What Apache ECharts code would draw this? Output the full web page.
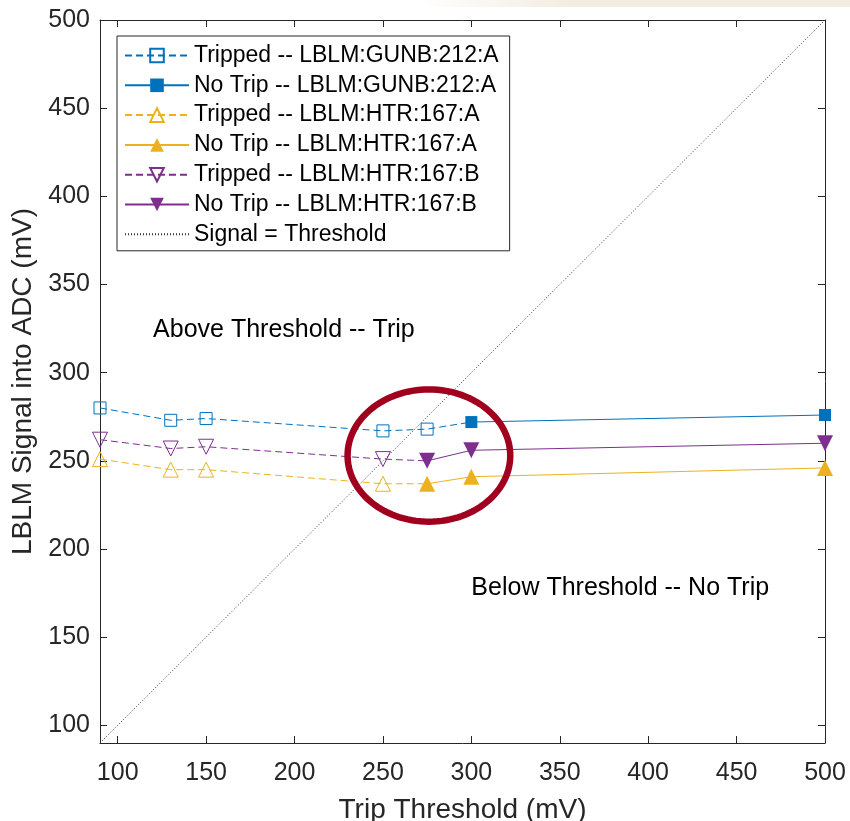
<!DOCTYPE html>
<html>
<head>
<meta charset="utf-8">
<script src="https://cdn.jsdelivr.net/npm/echarts@6/dist/echarts.min.js"></script>
<style>
  html, body { margin: 0; padding: 0; background: #fff; }
  #chart { width: 850px; height: 821px; }
</style>
</head>
<body>
<div id="chart"></div>
<script>
// Tick marks shared by both axes (mV)
const axisTicks = [100, 150, 200, 250, 300, 350, 400, 450, 500];

// LBLM:GUNB:212:A
const gunbTrippedX = [90, 130, 150, 250, 275];
const gunbTrippedY = [280, 273, 274, 267, 268];
const gunbNoTripX = [300, 500];
const gunbNoTripY = [272, 276];

// LBLM:HTR:167:A and LBLM:HTR:167:B share the same thresholds
const htrTrippedX = [90, 130, 150, 250];
const htrNoTripX = [275, 300, 500];
const htrATrippedY = [251, 245, 245, 237];
const htrANoTripY = [237, 241, 246];
const htrBTrippedY = [262, 257, 258, 251];
const htrBNoTripY = [250, 256, 260];

// Signal = Threshold reference line end points
const thresholdLine = [90, 500];

// Region notes: [threshold, signal] anchor of each text
const noteTexts = ['Above Threshold -- Trip', 'Below Threshold -- No Trip'];
const noteAnchors = [[120, 324], [300, 178]];

// Highlight around the trip boundary: [centre x, centre y, radius x, radius y]
const highlight = [276, 253, 46, 37.5];

const seriesNames = [
  'Tripped -- LBLM:GUNB:212:A',
  'No Trip -- LBLM:GUNB:212:A',
  'Tripped -- LBLM:HTR:167:A',
  'No Trip -- LBLM:HTR:167:A',
  'Tripped -- LBLM:HTR:167:B',
  'No Trip -- LBLM:HTR:167:B',
  'Signal = Threshold'
];

const FONT = '"Liberation Sans", Arial, Helvetica, sans-serif';
const BLUE = '#0072BD', YELLOW = '#EDB120', PURPLE = '#7E2F8E';
const AXIS = '#262626';

const zip = (xs, ys) => xs.map((x, i) => [x, ys[i]]);

// Dashed "tripped" trace continues to the first "no trip" point
function trippedData(xs, ys, nextX, nextY) {
  const pts = zip(xs, ys).map(p => ({ value: p }));
  pts.push({ value: [nextX[0], nextY[0]], symbol: 'none' });
  return pts;
}

function trippedSeries(name, color, symbol, rotate, xs, ys, nx, ny) {
  return {
    name, type: 'line',
    data: trippedData(xs, ys, nx, ny),
    symbol, symbolRotate: rotate,
    symbolSize: symbol === 'rect' ? 12 : 15,
    itemStyle: { color: 'rgba(255,255,255,0)', borderColor: color, borderWidth: 1 },
    lineStyle: { color, width: 1, type: [7, 4] },
    z: 3
  };
}

function noTripSeries(name, color, symbol, rotate, xs, ys) {
  return {
    name, type: 'line',
    data: zip(xs, ys),
    symbol, symbolRotate: rotate,
    symbolSize: symbol === 'rect' ? 12 : 16,
    itemStyle: { color, borderWidth: 0 },
    lineStyle: { color, width: 1, type: 'solid' },
    z: 4
  };
}

const chart = echarts.init(document.getElementById('chart'), null, { renderer: 'canvas' });

function valueAxis(position, extra) {
  return Object.assign({
    type: 'value', position, min: 90, max: 500,
    axisLine: { show: true, onZero: false, lineStyle: { color: AXIS, width: 1 } },
    axisTick: { show: true, inside: true, length: 7, customValues: axisTicks, lineStyle: { color: AXIS, width: 1 } },
    axisLabel: { show: false },
    splitLine: { show: false }
  }, extra);
}

const tickLabel = { show: true, customValues: axisTicks, fontSize: 25, color: AXIS, fontFamily: FONT };

chart.setOption({
  animation: false,
  backgroundColor: '#fff',
  textStyle: { fontFamily: FONT },
  grid: { left: 100, right: 25, top: 20, bottom: 78, containLabel: false, outerBoundsMode: 'none' },
  graphic: [{
    type: 'rect', silent: true, z: -10,
    shape: { x: 420, y: 0, width: 430, height: 7 },
    style: {
      fill: new echarts.graphic.LinearGradient(0, 0, 1, 0, [
        { offset: 0, color: 'rgba(243,236,224,0)' },
        { offset: 0.35, color: 'rgba(243,236,224,1)' },
        { offset: 1, color: 'rgba(243,236,224,1)' }
      ])
    }
  }],
  legend: {
    orient: 'vertical', left: 117, top: 36,
    data: seriesNames.map((n, i) => i === 6 ? { name: n, itemStyle: { opacity: 0 } } : n),
    itemWidth: 64, itemHeight: 17, itemGap: 6.8,
    padding: [8, 11, 5, 7],
    borderColor: AXIS, borderWidth: 1, backgroundColor: '#fff',
    selectedMode: false,
    textStyle: { fontSize: 23, color: '#000', fontFamily: FONT }
  },
  xAxis: [
    valueAxis('bottom', {
      axisLabel: Object.assign({ margin: 18 }, tickLabel),
      name: 'Trip Threshold (mV)', nameLocation: 'middle', nameGap: 53,
      nameTextStyle: { fontSize: 28, color: AXIS, fontFamily: FONT }
    }),
    valueAxis('top', {})
  ],
  yAxis: [
    valueAxis('left', {
      axisLabel: Object.assign({ margin: 10 }, tickLabel),
      name: 'LBLM Signal into ADC (mV)', nameLocation: 'middle', nameGap: 54, nameRotate: 90,
      nameTextStyle: { fontSize: 28, color: AXIS, fontFamily: FONT }
    }),
    valueAxis('right', {})
  ],
  series: [
    trippedSeries(seriesNames[0], BLUE, 'rect', 0, gunbTrippedX, gunbTrippedY, gunbNoTripX, gunbNoTripY),
    noTripSeries(seriesNames[1], BLUE, 'rect', 0, gunbNoTripX, gunbNoTripY),
    trippedSeries(seriesNames[2], YELLOW, 'triangle', 0, htrTrippedX, htrATrippedY, htrNoTripX, htrANoTripY),
    noTripSeries(seriesNames[3], YELLOW, 'triangle', 0, htrNoTripX, htrANoTripY),
    trippedSeries(seriesNames[4], PURPLE, 'triangle', 180, htrTrippedX, htrBTrippedY, htrNoTripX, htrBNoTripY),
    noTripSeries(seriesNames[5], PURPLE, 'triangle', 180, htrNoTripX, htrBNoTripY),
    {
      name: seriesNames[6], type: 'line',
      data: zip(thresholdLine, thresholdLine),
      symbol: 'none',
      itemStyle: { color: 'rgba(0,0,0,0)' },
      lineStyle: { color: '#333', width: 1, type: [1, 2] },
      z: 2
    },
    {
      type: 'custom', silent: true, clip: false, z: 5,
      data: [highlight],
      renderItem(params, api) {
        const c = api.coord([api.value(0), api.value(1)]);
        const s = api.size([api.value(2), api.value(3)]);
        const pts = [];
        for (let k = 0; k < 120; k++) {
          const t = k / 120 * Math.PI * 2;
          pts.push([c[0] + s[0] * Math.cos(t), c[1] + s[1] * Math.sin(t)]);
        }
        return {
          type: 'polygon', shape: { points: pts },
          style: { fill: 'none', stroke: '#A0001E', lineWidth: 6.5 }
        };
      }
    },
    {
      type: 'custom', silent: true, clip: false, z: 5,
      data: noteAnchors,
      renderItem(params, api) {
        const p = api.coord([api.value(0), api.value(1)]);
        return {
          type: 'text', x: p[0], y: p[1],
          style: {
            text: noteTexts[params.dataIndex], fontSize: 25, fontFamily: FONT,
            fill: '#000', align: 'left', verticalAlign: 'middle'
          }
        };
      }
    }
  ]
});
</script>
</body>
</html>
